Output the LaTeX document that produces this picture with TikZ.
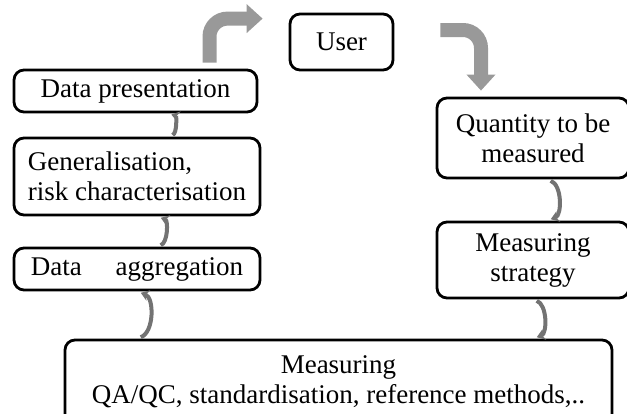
\documentclass[tikz,border=0pt]{standalone}
\usepackage{fontspec}
\setmainfont{Liberation Serif}
\usetikzlibrary{arrows.meta}

\begin{document}
\begin{tikzpicture}[x=0.5pt,y=-0.5pt,
	box/.style={draw, line width=1.4pt, rounded corners=5pt, inner sep=0pt, font=\fontsize{13.5}{15}\selectfont, align=center},
	bigarrow/.style={draw=black!40, line width=7pt, rounded corners=9pt, -{Triangle[length=8pt,width=14pt]}},
	smallarrow/.style={draw=black!55, line width=2pt, shorten <=2pt, shorten >=2pt, -{Stealth[length=4pt,width=5.5pt]}}]
	\clip (0,0) rectangle (627,413);
	\node[box, minimum width=51.5pt, minimum height=28pt] (user) at (341.5,42) {User};
	\node[box, minimum width=121.5pt, minimum height=21pt] (pres) at (135.5,91) {Data presentation};
	\node[box, minimum width=123pt, minimum height=38.5pt, align=left] (gen) at (137,176.5) {Generalisation,\\risk characterisation};
	\node[box, minimum width=123pt, minimum height=21pt] (agg) at (137,269) {Data \quad aggregation};
	\node[box, minimum width=96pt, minimum height=40pt] (qty) at (533,138) {Quantity to be\\measured};
	\node[box, minimum width=96pt, minimum height=38pt] (strat) at (533,260) {Measuring\\strategy};
	\node[box, minimum width=273.5pt, minimum height=42pt] (meas) at (338.5,382) {Measuring\\QA/QC, standardisation, reference methods,..};
	\draw[bigarrow] ([xshift=37pt,yshift=3pt]pres.north) |- ([xshift=-13pt,yshift=-3pt]user.north west);
	\draw[bigarrow] ([xshift=23pt,yshift=6pt]user.east) -| ([xshift=-26pt,yshift=3pt]qty.north);
	\draw[smallarrow] ([xshift=16pt]gen.north) to[bend right=70] ([xshift=16pt]pres.south);
	\draw[smallarrow] ([xshift=10pt]agg.north) to[bend right=70] ([xshift=10pt]gen.south);
	\draw[smallarrow] (agg.south |- meas.north) to[bend right=70] (agg.south);
	\draw[smallarrow] ([xshift=7pt]qty.south) to[bend left=70] ([xshift=7pt]strat.north);
	\draw[smallarrow] (strat.south) to[bend left=70] (strat.south |- meas.north);
\end{tikzpicture}
\end{document}
